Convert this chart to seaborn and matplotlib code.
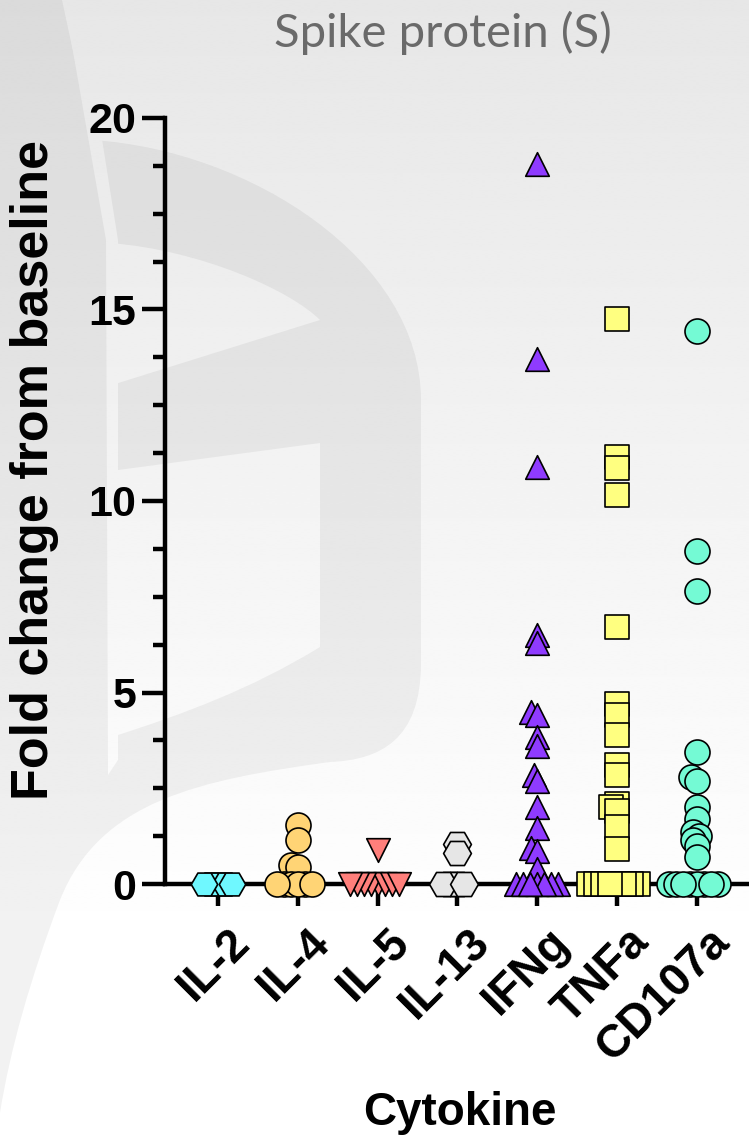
import numpy as np
import matplotlib
matplotlib.use("Agg")
import matplotlib.pyplot as plt
import seaborn as sns
from matplotlib.path import Path
from matplotlib.patches import PathPatch
from matplotlib.ticker import MultipleLocator
from matplotlib.transforms import ScaledTranslation

# ---------------- data ----------------
categories = ["IL-2", "IL-4", "IL-5", "IL-13", "IFNg", "TNFa", "CD107a"]
il2 = [0, 0, 0, 0, 0]
il4 = [1.55, 1.15, 0.5, 0.45, 0, 0, 0, 0, 0, 0]
il5 = [0.9, 0, 0, 0, 0, 0, 0, 0, 0]
il13 = [1.05, 0.8, 0, 0, 0, 0]
ifng = [18.8, 13.7, 10.9, 6.5, 6.3, 4.5, 4.4, 3.85, 3.6, 2.85, 2.7, 2.0, 1.45,
        0.95, 0.85, 0.4, 0, 0, 0, 0, 0, 0, 0]
tnfa = [14.75, 11.15, 10.85, 10.15, 6.7, 4.7, 4.4, 3.9, 3.1, 2.85, 2.1, 2.0, 1.9,
        1.5, 0.92, 0, 0, 0, 0, 0, 0, 0, 0]
cd107a = [14.45, 8.7, 7.65, 3.45, 2.8, 2.7, 2.0, 1.7, 1.35, 1.25, 1.15, 1.0, 0.7,
          0, 0, 0, 0, 0, 0, 0, 0]
series = [il2, il4, il5, il13, ifng, tnfa, cd107a]
colors = ["#6ff8ff", "#ffd475", "#ff7f7b", "#e6e6e6", "#8f3bff", "#ffff80", "#74fad4"]
markers = ["H", "o", "v", "H", "^", "s", "o"]
marker_sizes = [19, 18, 17, 20, 17, 17, 18]
yticks = [0, 5, 10, 15, 20]
title = "Spike protein (S)"
xlabel = "Cytokine"
ylabel = "Fold change from baseline"

# ---------------- style ----------------
sns.set_style("ticks")
plt.rcParams["font.family"] = ["Liberation Sans", "DejaVu Sans"]
plt.rcParams["text.color"] = "black"
plt.rcParams["xtick.color"] = "black"
plt.rcParams["ytick.color"] = "black"
plt.rcParams["axes.edgecolor"] = "black"

W, H = 749, 1141
fig = plt.figure(figsize=(W / 100, H / 100), dpi=100)

# ---------------- background (gradient + faint watermark) ----------------
bg = fig.add_axes([0, 0, 1, 1], zorder=-10)
yy = np.linspace(0, H, 400)
grad = np.clip(0.905 + 0.095 * (yy / 950.0), 0, 1)[:, None]
bg.imshow(grad, extent=(0, W, H, 0), aspect="auto", cmap="gray", vmin=0, vmax=1,
          interpolation="bilinear", zorder=0)

M, L, C, Z = Path.MOVETO, Path.LINETO, Path.CURVE4, Path.CLOSEPOLY
outer_v = [(0, 0), (62, 0), (92, 140),
           (250, 150), (421, 260), (421, 400),
           (421, 663),
           (421, 740), (380, 760), (330, 762),
           (200, 780), (100, 800), (60, 900),
           (30, 980), (10, 1050), (0, 1113),
           (0, 0)]
outer_c = [M, L, L, C, C, C, L, C, C, C, C, C, C, C, C, C, Z]
outer = PathPatch(Path(outer_v, outer_c), transform=bg.transData,
                  facecolor="black", alpha=0.05, edgecolor="none", zorder=1)
bg.add_patch(outer)

hole1_v = [(110, 243), (200, 250), (290, 290), (320, 320), (112, 385), (110, 243)]
hole1_c = [M, C, C, C, L, Z]
hole2_v = [(118, 470), (320, 443), (320, 647), (250, 690), (180, 715), (118, 735), (118, 470)]
hole2_c = [M, L, L, C, C, C, Z]
gap_v = [(64, 0), (80, 0), (118, 240), (118, 760), (108, 775), (106, 240), (64, 0)]
gap_c = [M, L, L, L, L, L, Z]
for hv, hc in [(hole1_v, hole1_c), (hole2_v, hole2_c), (gap_v, gap_c)]:
    hp = PathPatch(Path(hv, hc), transform=bg.transData, facecolor="none",
                   edgecolor="none")
    bg.add_patch(hp)
    im = bg.imshow(grad, extent=(0, W, H, 0), aspect="auto", cmap="gray",
                   vmin=0, vmax=1, interpolation="bilinear", zorder=2)
    im.set_clip_path(hp)
bg.set_xlim(0, W)
bg.set_ylim(H, 0)
bg.axis("off")

# ---------------- main axes ----------------
AX_L = 165
ax = fig.add_axes([AX_L / W, 1 - 884 / H, (W - AX_L) / W, 766 / H])
ax.patch.set_alpha(0)

groups = []
for cat, vals, col, mk, ms in zip(categories, series, colors, markers, marker_sizes):
    n0 = len(ax.collections)
    sns.swarmplot(x=[cat] * len(vals), y=vals, order=categories, color=col,
                  marker=mk, size=3.8, edgecolor="black", linewidth=1.0, ax=ax)
    groups.append((ax.collections[n0:], ms))

ax.set_xlim(-0.664, 6.654)
ax.set_ylim(0, 20)

# compute swarm layout with small markers, then freeze and enlarge
fig.canvas.draw()
for cl, ms in groups:
    for coll in cl:
        if "draw" in coll.__dict__:
            del coll.__dict__["draw"]
        coll.set_sizes([ms ** 2])
        coll.set_linewidth(1.2)
        coll.set_edgecolor("black")
        coll.set_clip_on(False)
        coll.set_zorder(5)

sns.despine(ax=ax)
ax.spines["left"].set_linewidth(3.2)
ax.spines["bottom"].set_linewidth(3.2)
ax.spines["left"].set_zorder(4)
ax.spines["bottom"].set_zorder(4)

ax.set_yticks(yticks)
ax.set_yticklabels([str(t) for t in yticks])
ax.yaxis.set_minor_locator(MultipleLocator(1.25))
ax.tick_params(axis="y", which="major", length=16.5, width=3.2, labelsize=31,
               pad=4)
ax.tick_params(axis="y", which="minor", length=9, width=3.2)
for lab in ax.get_yticklabels():
    lab.set_fontweight("bold")

ax.set_xticks(range(len(categories)))
ax.set_xticklabels(categories, rotation=45, ha="right", rotation_mode="anchor",
                   fontsize=33, fontweight="bold")
ax.tick_params(axis="x", which="major", length=16, width=3.2, pad=4)
shift = ScaledTranslation(10 / 100, -8 / 100, fig.dpi_scale_trans)
for lab in ax.get_xticklabels():
    lab.set_transform(lab.get_transform() + shift)
ax.set_xlabel("")
ax.set_ylabel("")

fig.text(460 / W, 1 - 1113 / H, xlabel, ha="center", va="center",
         fontsize=33, fontweight="bold")
fig.text(35 / W, 1 - 470 / H, ylabel, ha="center", va="center", rotation=90,
         fontsize=37.5, fontweight="bold")
fig.text(443 / W, 1 - 33 / H, title, ha="center", va="center", fontsize=34,
         color="#6a6a6a", family=["Lato", "DejaVu Sans"])

fig.savefig("out.png", dpi=100)
